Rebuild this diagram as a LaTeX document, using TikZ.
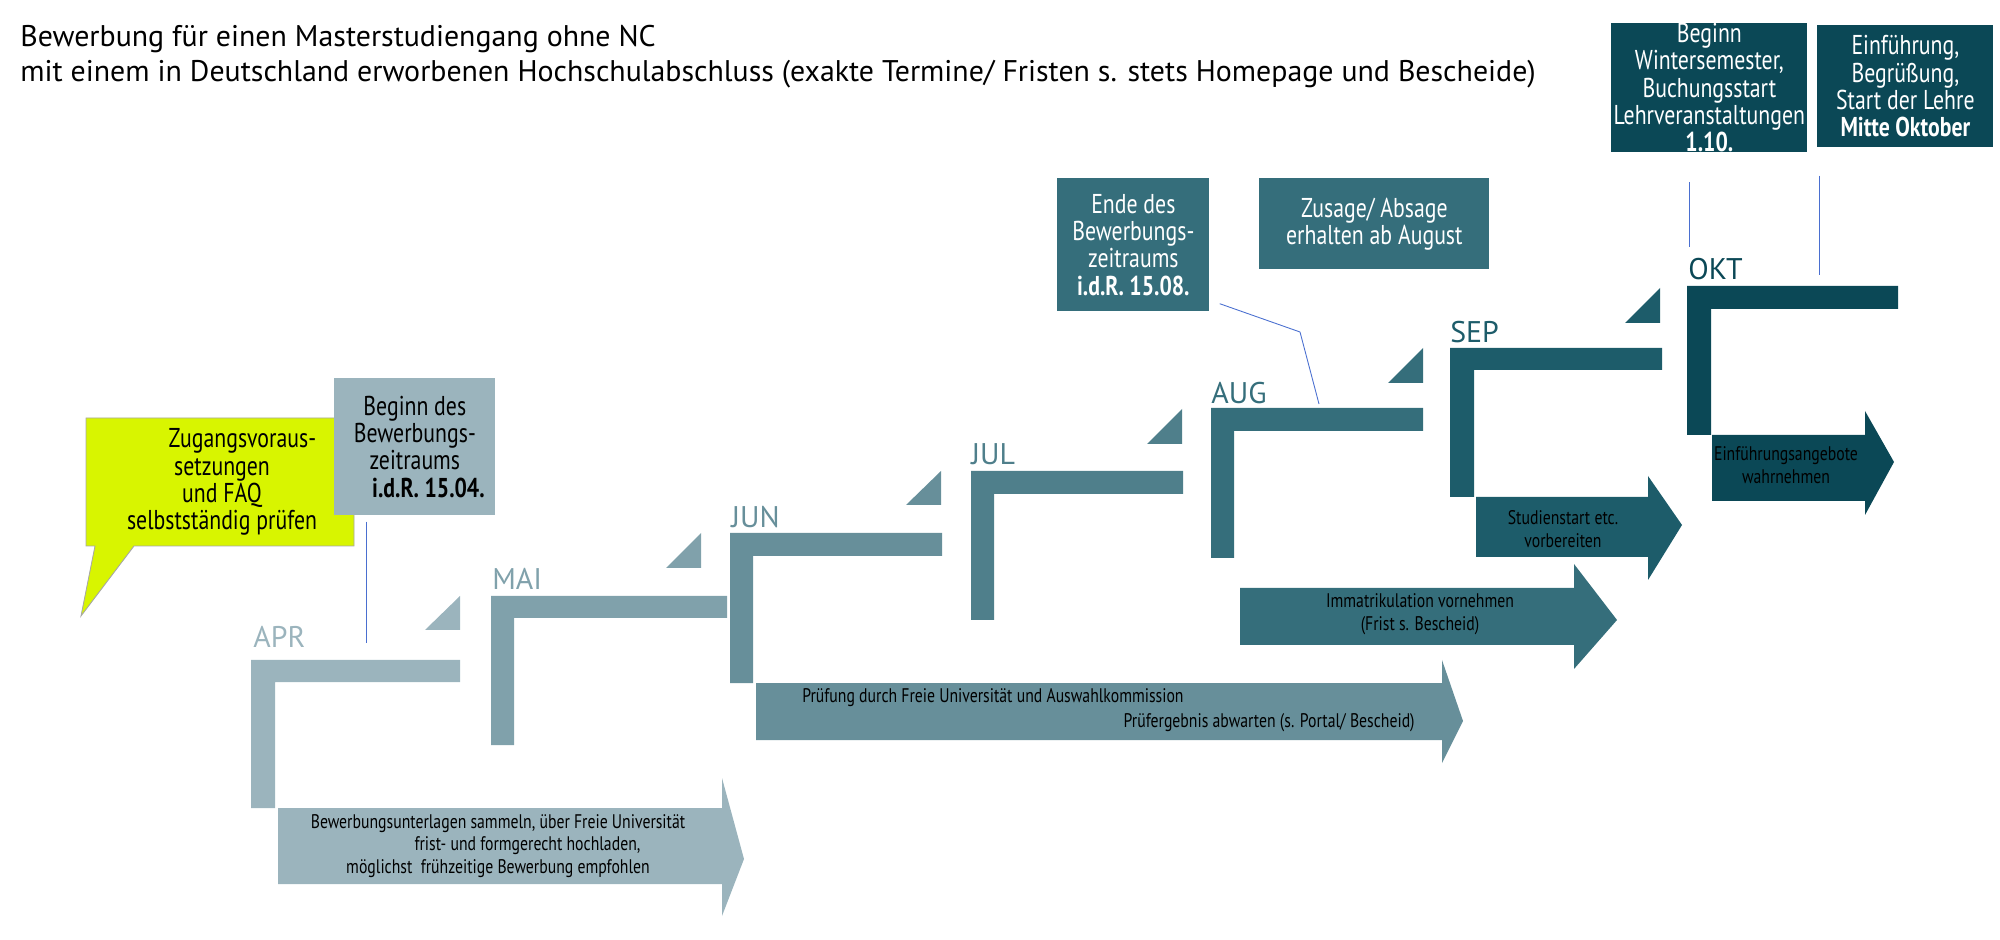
\documentclass[tikz,border=0pt]{standalone}
\usepackage{fontspec}
\setmainfont{PT Sans}
\newfontfamily\condfont[FakeStretch=0.8]{PT Sans}
\definecolor{cApr}{HTML}{9BB4BD}
\definecolor{cMai}{HTML}{80A1AB}
\definecolor{cJun}{HTML}{678F9A}
\definecolor{cJul}{HTML}{4F7F8B}
\definecolor{cAug}{HTML}{356E7B}
\definecolor{cSep}{HTML}{1D5C6A}
\definecolor{cOkt}{HTML}{0B4856}
\definecolor{cLime}{HTML}{D8F500}
\definecolor{cLine}{HTML}{4A6FD0}
\tikzset{
  monthlab/.style={anchor=south west, inner sep=0pt, font=\fontsize{17}{17}\selectfont},
  infobox/.style={inner sep=0pt, align=center, font=\condfont\fontsize{15.5}{15.5}\selectfont},
  arrowtext/.style={inner sep=0pt, align=center, font=\condfont\fontsize{11.2}{13}\selectfont},
  pointer/.style={cLine, line width=0.5pt}
}
\begin{document}
\begin{tikzpicture}[x=0.2mm, y=-0.2mm]
\useasboundingbox (0,0) rectangle (2000,940);

% title
\node [anchor=north west, align=left, inner sep=0pt, font=\fontsize{17}{20}\selectfont] (title) at (20,25)
  {Bewerbung für einen Masterstudiengang ohne NC\\mit einem in Deutschland erworbenen Hochschulabschluss (exakte Termine/ Fristen s. stets Homepage und Bescheide)};

% steps
\fill [cApr] (251,660) -- (460,660) -- (460,682) -- (275,682) -- (275,808) -- (251,808) -- cycle;
\fill [cApr] (425,630) -- (460,596) -- (460,630) -- cycle;
\fill [cMai] (491,596) -- (727,596) -- (727,618) -- (514,618) -- (514,745) -- (491,745) -- cycle;
\fill [cMai] (666,568) -- (701,533) -- (701,568) -- cycle;
\fill [cJun] (730,533) -- (942,533) -- (942,556) -- (753,556) -- (753,683) -- (730,683) -- cycle;
\fill [cJun] (906,505) -- (941,471) -- (941,505) -- cycle;
\fill [cJul] (971,471) -- (1183,471) -- (1183,494) -- (994,494) -- (994,620) -- (971,620) -- cycle;
\fill [cJul] (1147,444) -- (1182,409) -- (1182,444) -- cycle;
\fill [cAug] (1211,408) -- (1423,408) -- (1423,431) -- (1234,431) -- (1234,558) -- (1211,558) -- cycle;
\fill [cAug] (1388,383) -- (1423,348) -- (1423,383) -- cycle;
\fill [cSep] (1450,348) -- (1662,348) -- (1662,370) -- (1474,370) -- (1474,497) -- (1450,497) -- cycle;
\fill [cSep] (1625,323) -- (1660,288) -- (1660,323) -- cycle;
\fill [cOkt] (1687,286) -- (1898,286) -- (1898,309) -- (1711,309) -- (1711,435) -- (1687,435) -- cycle;

% month labels
\node [monthlab, text=cApr] (apr) at (253,648) {APR};
\node [monthlab, text=cMai] (mai) at (492,590) {MAI};
\node [monthlab, text=cJun] (jun) at (731,528) {JUN};
\node [monthlab, text=cJul] (jul) at (971,465) {JUL};
\node [monthlab, text=cAug] (aug) at (1211,404) {AUG};
\node [monthlab, text=cSep] (sep) at (1450,343) {SEP};
\node [monthlab, text=cOkt] (okt) at (1688,280) {OKT};

% flow arrows
\fill [cApr] (278,808) -- (722,808) -- (722,778) -- (744,859) -- (722,916) -- (722,884) -- (278,884) -- cycle;
\node [arrowtext] (collect) at (498,846) {Bewerbungsunterlagen sammeln, über Freie Universität\\\hspace*{3em}frist- und formgerecht hochladen,\\möglichst\ \ frühzeitige Bewerbung empfohlen};
\fill [cJun] (756,683) -- (1442,683) -- (1442,660) -- (1463,721) -- (1442,763) -- (1442,740) -- (756,740) -- cycle;
\node [arrowtext, anchor=west] (check) at (802,698) {Prüfung durch Freie Universität und Auswahlkommission};
\node [arrowtext, anchor=east] (wait) at (1415,723) {Prüfergebnis abwarten (s. Portal/ Bescheid)};
\fill [cAug] (1240,588) -- (1574,588) -- (1574,564) -- (1617,620) -- (1574,669) -- (1574,645) -- (1240,645) -- cycle;
\node [arrowtext] (enrol) at (1420,614) {Immatrikulation vornehmen\\(Frist s. Bescheid)};
\fill [cSep] (1476,497) -- (1648,497) -- (1648,476) -- (1682,525) -- (1648,580) -- (1648,557) -- (1476,557) -- cycle;
\node [arrowtext] (prepare) at (1563,529) {Studienstart etc.\\vorbereiten};
\fill [cOkt] (1712,435) -- (1865,435) -- (1865,411) -- (1894,462) -- (1865,515) -- (1865,501) -- (1712,501) -- cycle;
\node [arrowtext] (intro) at (1786,465) {Einführungsangebote\\wahrnehmen};

% callouts
\fill [cLime, draw=gray!70, line width=0.5pt] (86,418) -- (354,418) -- (354,546) -- (134,546) -- (81,616) -- (95,546) -- (86,546) -- cycle;
\node [infobox, text=black] (reqs) at (222,482) {\hspace*{1.5em}Zugangsvoraus-\\setzungen\\und FAQ\\selbstständig prüfen};
\node [infobox, anchor=north west, fill=cApr, text=black, minimum width=32.2mm, minimum height=27.4mm] (startbox) at (334,378)
  {Beginn des\\Bewerbungs-\\zeitraums\\\hspace*{1em}\textbf{i.d.R. 15.04.}};
\coordinate (startpt) at (366,643);
\draw [pointer] (startbox.south -| startpt) ++(0,6) -- (startpt);
\node [infobox, anchor=north west, fill=cAug, text=white, minimum width=30.4mm, minimum height=26.6mm] (endbox) at (1057,178)
  {Ende des\\Bewerbungs-\\zeitraums\\\textbf{i.d.R. 15.08.}};
\coordinate (endbend) at (1300,332);
\coordinate (endpt) at (1319,404);
\draw [pointer] (endbox.south east) ++(10,-8) -- (endbend) -- (endpt);
\node [infobox, anchor=north west, fill=cAug, text=white, minimum width=46mm, minimum height=18.2mm] (replybox) at (1259,178)
  {Zusage/ Absage\\erhalten ab August};
\node [infobox, anchor=north west, fill=cOkt, text=white, minimum width=39.2mm, minimum height=24.4mm] (wsbox) at (1611,23)
  {Beginn\\Wintersemester,\\Buchungsstart\\Lehrveranstaltungen\\\textbf{1.10.}};
\coordinate (wspt) at (1689,247);
\draw [pointer] (wsbox.south -| wspt) ++(0,30) -- (wspt);
\node [infobox, anchor=north west, fill=cOkt, text=white, minimum width=35.2mm, minimum height=24.4mm] (introbox) at (1817,25)
  {Einführung,\\Begrüßung,\\Start der Lehre\\\textbf{Mitte Oktober}};
\coordinate (intropt) at (1819,275);
\draw [pointer] (introbox.south west) ++(2,28) -- (intropt);
\end{tikzpicture}
\end{document}
